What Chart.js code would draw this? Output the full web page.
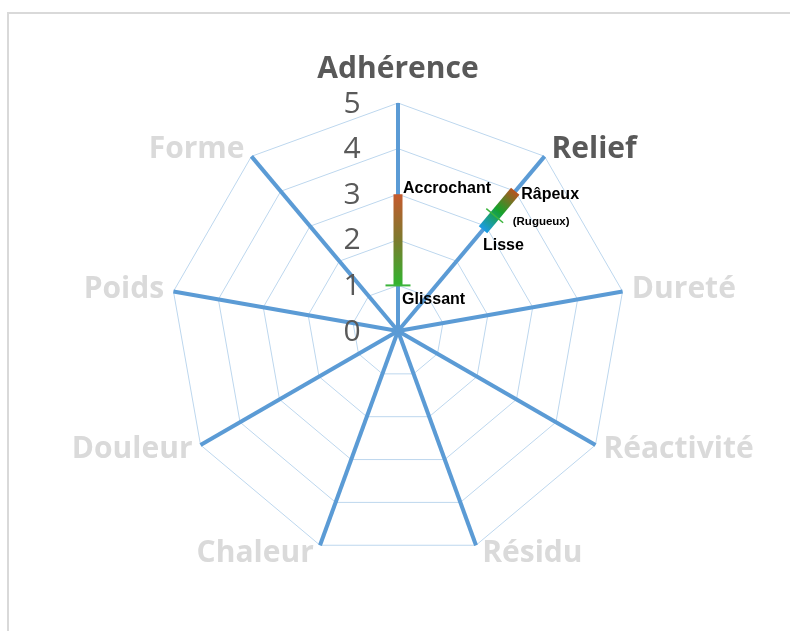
<!DOCTYPE html>
<html>
<head>
<meta charset="utf-8">
<script src="https://cdn.jsdelivr.net/npm/chart.js@4.4.1/dist/chart.umd.min.js"></script>
<style>
  body { margin: 0; background: #fff; overflow: hidden; }
  .frame { position: absolute; left: 7px; top: 12px; width: 820px; height: 660px;
           border-top: 2px solid #d9d9d9; border-left: 2px solid #d9d9d9; }
  #radarChart { position: absolute; left: 0; top: 0; }
</style>
</head>
<body>
<div class="frame"></div>
<canvas id="radarChart" width="790" height="631"></canvas>
<script>
// Axes of the profile, clockwise from the top
const axes = ['Adhérence', 'Relief', 'Dureté', 'Réactivité', 'Résidu', 'Chaleur', 'Douleur', 'Poids', 'Forme'];

// Range bar on each axis (null = nothing drawn)
const rangeLow  = [1, 2.9, null, null, null, null, null, null, null];
const rangeHigh = [3, 4,   null, null, null, null, null, null, null];
const crossAt   = [1, 3.3, null, null, null, null, null, null, null];

// Words at the ends / middle of each bar
const lowLabels   = ['Glissant',   'Lisse',     null, null, null, null, null, null, null];
const highLabels  = ['Accrochant', 'Râpeux',    null, null, null, null, null, null, null];
const crossLabels = [null,         '(Rugueux)', null, null, null, null, null, null, null];

// Radial scale
const tickLabels = ['0', '1', '2', '3', '4', '5'];
const scaleMax = 5;

// Drawing styles per axis
const barStyles = [
    { width: 9,  stops: ['#2fb52f', '#7d7a2e', '#c65a2e'], cross: 25, crossWidth: 2,
      low: { dx: 4, dy: 14 }, high: { dx: 5, dy: -6 }, mid: null },
    { width: 11, stops: ['#1d9be6', '#17a12a', '#b8521f'], cross: 22, crossWidth: 1.5,
      low: { dx: 0, dy: 16 }, high: { dx: 6, dy: 3 }, mid: { dx: 18, dy: 6 } }
];

const profilePlugin = {
    id: 'profile',
    afterDatasetsDraw(chart) {
        const ctx = chart.ctx;
        const scale = chart.scales.r;
        const cx = scale.xCenter, cy = scale.yCenter;
        const R = scale.drawingArea;

        ctx.save();

        // gradient bars with a small cross mark
        axes.forEach((name, i) => {
            if (rangeLow[i] == null) return;
            const st = barStyles[i];
            const a = scale.getPointPositionForValue(i, rangeLow[i]);
            const b = scale.getPointPositionForValue(i, rangeHigh[i]);
            const grad = ctx.createLinearGradient(a.x, a.y, b.x, b.y);
            st.stops.forEach((c, k) => grad.addColorStop(k / (st.stops.length - 1), c));
            ctx.strokeStyle = grad;
            ctx.lineWidth = st.width;
            ctx.lineCap = 'butt';
            ctx.beginPath();
            ctx.moveTo(a.x, a.y);
            ctx.lineTo(b.x, b.y);
            ctx.stroke();

            const m = scale.getPointPositionForValue(i, crossAt[i]);
            const ux = (b.x - a.x), uy = (b.y - a.y);
            const len = Math.hypot(ux, uy);
            const px = -uy / len, py = ux / len;
            ctx.strokeStyle = '#3cb43c';
            ctx.lineWidth = st.crossWidth;
            ctx.beginPath();
            ctx.moveTo(m.x - px * st.cross / 2, m.y - py * st.cross / 2);
            ctx.lineTo(m.x + px * st.cross / 2, m.y + py * st.cross / 2);
            ctx.stroke();

            ctx.fillStyle = '#000';
            ctx.textAlign = 'left';
            ctx.textBaseline = 'middle';
            ctx.font = 'bold 16px "Liberation Sans", Arial, sans-serif';
            ctx.fillText(highLabels[i], b.x + st.high.dx, b.y + st.high.dy);
            ctx.fillText(lowLabels[i], a.x + st.low.dx, a.y + st.low.dy);
            if (crossLabels[i] && st.mid) {
                ctx.font = 'bold 11.5px "Liberation Sans", Arial, sans-serif';
                ctx.fillText(crossLabels[i], m.x + st.mid.dx, m.y + st.mid.dy);
            }
        });

        // tick numbers, left of the top axis
        ctx.font = '30px "Open Sans", sans-serif';
        ctx.fillStyle = '#595959';
        ctx.textAlign = 'center';
        ctx.textBaseline = 'middle';
        tickLabels.forEach((t, k) => {
            const y = cy - scale.getDistanceFromCenterForValue(k);
            ctx.fillText(t, cx - 46, y + 1);
        });

        // axis names around the outer ring
        ctx.font = 'bold 30px "Open Sans", sans-serif';
        axes.forEach((name, i) => {
            const p = scale.getPointPositionForValue(i, scaleMax);
            const ux = (p.x - cx) / R, uy = (p.y - cy) / R;
            ctx.fillStyle = rangeLow[i] != null ? '#595959' : '#dadada';
            if (Math.abs(ux) < 0.05) {
                ctx.textAlign = 'center';
                ctx.fillText(name, p.x, p.y - 34);
            } else {
                const gap = 10 - 4 * Math.abs(uy);
                ctx.textAlign = ux > 0 ? 'left' : 'right';
                ctx.fillText(name, p.x + (ux > 0 ? gap : -gap), p.y + 9 * uy);
            }
        });

        ctx.restore();
    }
};

new Chart(document.getElementById('radarChart'), {
    type: 'radar',
    data: {
        labels: axes,
        datasets: [{
            label: 'Profil',
            data: rangeHigh,
            borderColor: 'transparent',
            backgroundColor: 'transparent',
            pointRadius: 0,
            borderWidth: 0
        }]
    },
    options: {
        responsive: false,
        animation: false,
        events: [],
        layout: { padding: { left: 170, right: 164, top: 103, bottom: 72 } },
        plugins: { legend: { display: false }, tooltip: { enabled: false } },
        scales: {
            r: {
                min: 0,
                max: scaleMax,
                ticks: { stepSize: 1, display: false },
                pointLabels: { display: false },
                grid: { color: '#bdd7ee', lineWidth: 1, circular: false },
                angleLines: { color: '#5b9bd5', lineWidth: 4 }
            }
        }
    },
    plugins: [profilePlugin]
});
</script>
</body>
</html>
